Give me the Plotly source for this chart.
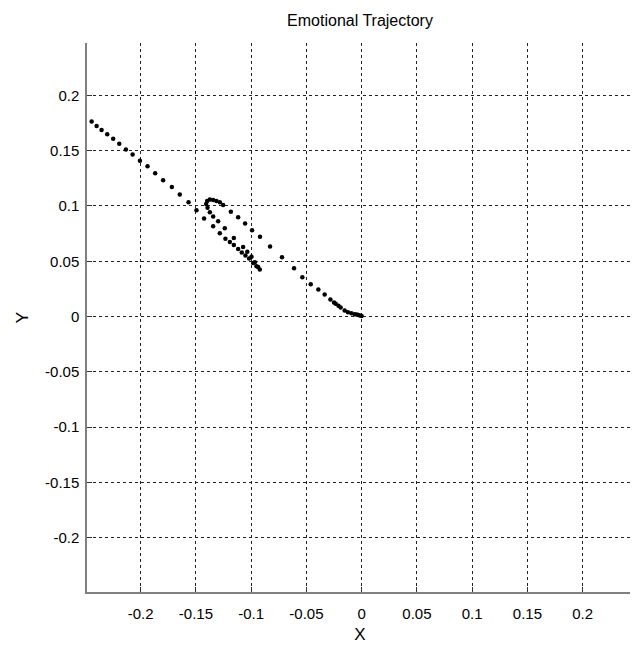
import plotly.graph_objects as go

# Trajectory points, in drawing order
x_vals = [
    -0.2490, -0.2444, -0.2399, -0.2354, -0.2303, -0.2249, -0.2194, -0.2134, -0.2073, -0.2007,
    -0.1938, -0.1869, -0.1797, -0.1718, -0.1646, -0.1567, -0.1495, -0.1426, -0.1344, -0.1284,
    -0.1233, -0.1193, -0.1157, -0.1118, -0.1085, -0.1052, -0.1019, -0.0982, -0.0952, -0.0922,
    -0.0937, -0.0967, -0.0997, -0.1035, -0.1073, -0.1157, -0.1239, -0.1299, -0.1344, -0.1374,
    -0.1395, -0.1407, -0.1398, -0.1374, -0.1344, -0.1314, -0.1284, -0.1254,
    -0.1184, -0.1118, -0.1055, -0.0992, -0.0920, -0.0829, -0.0721, -0.0612, -0.0537, -0.0461,
    -0.0392, -0.0335, -0.0283, -0.0250, -0.0235, -0.0210, -0.0190, -0.0154, -0.0124, -0.0093,
    -0.0063, -0.0045, -0.0030, -0.0015, 0.0000,
]
y_vals = [
    0.1800, 0.1763, 0.1724, 0.1688, 0.1649, 0.1607, 0.1562, 0.1510, 0.1465, 0.1410,
    0.1359, 0.1296, 0.1233, 0.1172, 0.1103, 0.1034, 0.0961, 0.0886, 0.0817, 0.0753,
    0.0703, 0.0675, 0.0648, 0.0612, 0.0579, 0.0552, 0.0524, 0.0485, 0.0455, 0.0425,
    0.0449, 0.0491, 0.0540, 0.0585, 0.0630, 0.0711, 0.0799, 0.0862, 0.0904, 0.0943,
    0.0983, 0.1019, 0.1046, 0.1058, 0.1055, 0.1046, 0.1034, 0.1010,
    0.0949, 0.0898, 0.0841, 0.0780, 0.0721, 0.0633, 0.0536, 0.0437, 0.0355, 0.0292,
    0.0244, 0.0199, 0.0154, 0.0128, 0.0115, 0.0098, 0.0081, 0.0054, 0.0039, 0.0030,
    0.0022, 0.0018, 0.0014, 0.0010, 0.0006,
]

tick_vals = [-0.2, -0.15, -0.1, -0.05, 0, 0.05, 0.1, 0.15, 0.2]
tick_text = ["-0.2", "-0.15", "-0.1", "-0.05", "0", "0.05", "0.1", "0.15", "0.2"]

FONT = "Liberation Sans, Arial, Helvetica, sans-serif"

fig = go.Figure(
    go.Scatter(
        x=x_vals, y=y_vals, mode="markers",
        marker=dict(size=4.5, color="black"),
        cliponaxis=False, showlegend=False,
    )
)

axis_common = dict(
    tickvals=tick_vals, ticktext=tick_text,
    showgrid=True, gridcolor="#222222", gridwidth=1, griddash="3px,3px",
    zeroline=False, showline=True, linecolor="#808080", linewidth=1.5,
    ticks="inside", ticklen=5, tickcolor="#333333", tickwidth=1,
    tickfont=dict(family=FONT, size=15, color="black"),
    mirror=False, automargin=False,
)

fig.update_xaxes(
    range=[-0.2486, 0.2456], **axis_common,
    ticklabelstandoff=7,
    title=dict(text="X", font=dict(family=FONT, size=17, color="black"), standoff=7),
)
fig.update_yaxes(
    range=[-0.2491, 0.2474], **axis_common,
    ticklabelstandoff=3,
    title=dict(text="Y", font=dict(family=FONT, size=17, color="black"), standoff=12),
)

# The page body has an 8px margin, so the figure is sized 8px smaller
fig.update_layout(
    width=630, height=641,
    margin=dict(l=79, r=5, t=35, b=57, autoexpand=False),
    plot_bgcolor="white", paper_bgcolor="white",
    title=dict(
        text="Emotional Trajectory", x=0.5, xref="paper", xanchor="center",
        y=1 - 12 / 641, yref="container", yanchor="middle", automargin=False,
        font=dict(family=FONT, size=16, color="black"),
    ),
)

fig.write_html("out.html")
